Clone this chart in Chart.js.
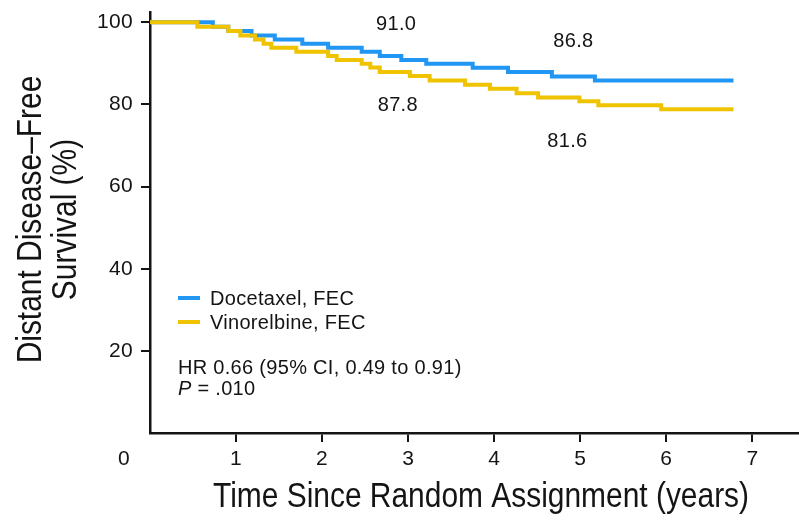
<!DOCTYPE html>
<html>
<head>
<meta charset="utf-8">
<script src="https://cdn.jsdelivr.net/npm/chart.js@4.4.1/dist/chart.umd.min.js"></script>
<style>
  html, body { margin: 0; padding: 0; background: #fff; }
  #wrap { width: 799px; height: 527px; position: relative; }
</style>
</head>
<body>
<div id="wrap"><canvas id="c" width="799" height="527"></canvas></div>
<script>
// ---- Data (Kaplan-Meier step points: value starts at time) ----
const docetaxelTimes    = [0, 0.73, 0.91, 1.18, 1.45, 1.77, 2.07, 2.46, 2.67, 2.92, 3.21, 3.75, 4.16, 4.67, 5.17, 6.78];
const docetaxelSurvival = [100, 98.9, 97.9, 96.8, 95.8, 94.8, 93.8, 92.8, 91.8, 90.8, 89.9, 88.9, 87.9, 86.8, 85.8, 85.8];
const vinorelbineTimes    = [0, 0.55, 0.91, 1.05, 1.22, 1.32, 1.41, 1.70, 2.07, 2.17, 2.46, 2.56, 2.67, 3.02, 3.25, 3.66, 3.95, 4.26, 4.51, 4.99, 5.21, 5.94, 6.78];
const vinorelbineSurvival = [100, 98.9, 97.9, 96.8, 95.8, 94.8, 93.8, 92.8, 91.8, 90.8, 89.9, 89.0, 87.9, 86.9, 85.8, 84.8, 83.8, 82.7, 81.7, 80.8, 79.8, 78.8, 78.8];
const seriesNames = ['Docetaxel, FEC', 'Vinorelbine, FEC'];
const xTickValues = [1, 2, 3, 4, 5, 6, 7];
const yTickValues = [20, 40, 60, 80, 100];
const annotationTexts = ['91.0', '87.8', '86.8', '81.6'];
const statsLines = ['HR 0.66 (95% CI, 0.49 to 0.91)', '= .010'];
const xTitle = 'Time Since Random Assignment (years)';
const yTitleLines = ['Distant Disease\u2013Free', 'Survival (%)'];

const BLUE = '#2196f3';
const YELLOW = '#efc300';
const INK = '#141414';
const FONT = '"Liberation Sans", Arial, Helvetica, sans-serif';
const SPACING = '0.3px';

function toPoints(ts, vs) { return ts.map((t, i) => ({ x: t, y: vs[i] })); }

// anchor of each annotation label, in data units
const annotationPos = [
  { x: 2.86, y: 99.5 }, { x: 2.88, y: 79.8 }, { x: 4.92, y: 95.4 }, { x: 4.85, y: 71.0 }
];

function condensedText(ctx, text, x, y, size, rotate) {
  ctx.save();
  ctx.letterSpacing = '0px';
  ctx.font = size + 'px ' + FONT;
  const wide = ctx.measureText(text).width;
  ctx.font = size + 'px "Liberation Sans Narrow", ' + FONT;
  const actual = ctx.measureText(text).width;
  const sx = (0.855 * wide) / actual;
  ctx.translate(x, y);
  if (rotate) ctx.rotate(-Math.PI / 2);
  ctx.scale(sx, 1);
  ctx.fillStyle = INK;
  ctx.textAlign = 'center';
  ctx.textBaseline = 'middle';
  ctx.fillText(text, 0, 0);
  ctx.restore();
}

const spacing = {
  id: 'spacing',
  beforeDraw(chart) { chart.ctx.letterSpacing = SPACING; }
};

const overlay = {
  id: 'overlay',
  afterDraw(chart) {
    const ctx = chart.ctx;
    const xs = chart.scales.x, ys = chart.scales.y;
    const ca = chart.chartArea;
    ctx.save();
    ctx.letterSpacing = SPACING;
    ctx.fillStyle = INK;
    // origin label
    ctx.font = '21px ' + FONT;
    ctx.textAlign = 'center';
    ctx.textBaseline = 'middle';
    ctx.fillText('0', xs.getPixelForValue(0) - 26, ca.bottom + 26);
    // annotations
    ctx.font = '20px ' + FONT;
    annotationTexts.forEach((t, i) => {
      ctx.fillText(t, xs.getPixelForValue(annotationPos[i].x), ys.getPixelForValue(annotationPos[i].y));
    });
    // legend
    const lx = ca.left + 28;
    const rows = [{ c: BLUE, t: seriesNames[0] }, { c: YELLOW, t: seriesNames[1] }];
    ctx.textAlign = 'left';
    rows.forEach((r, i) => {
      const yy = 298 + i * 24;
      ctx.strokeStyle = r.c;
      ctx.lineWidth = 4;
      ctx.beginPath();
      ctx.moveTo(lx, yy);
      ctx.lineTo(lx + 22, yy);
      ctx.stroke();
      ctx.fillStyle = INK;
      ctx.font = '20px ' + FONT;
      ctx.fillText(r.t, lx + 32, yy + 1);
    });
    // stats
    ctx.font = '20px ' + FONT;
    ctx.fillText(statsLines[0], lx, 368);
    ctx.font = 'italic 20px ' + FONT;
    ctx.fillText('P', lx, 389);
    const pw = ctx.measureText('P ').width;
    ctx.font = '20px ' + FONT;
    ctx.fillText(statsLines[1], lx + pw, 389);
    ctx.restore();
    // axis titles
    const cy = (ca.top + ca.bottom) / 2;
    condensedText(ctx, xTitle, (ca.left + ca.right) / 2 + 7, 497, 35, false);
    condensedText(ctx, yTitleLines[0], 31, cy - 3, 35, true);
    condensedText(ctx, yTitleLines[1], 66, cy - 3, 35, true);
  }
};

new Chart(document.getElementById('c'), {
  type: 'line',
  data: {
    datasets: [
      {
        label: seriesNames[0],
        data: toPoints(docetaxelTimes, docetaxelSurvival),
        borderColor: BLUE, borderWidth: 4, stepped: 'before',
        pointRadius: 0, fill: false, order: 1, borderCapStyle: 'butt', borderJoinStyle: 'miter'
      },
      {
        label: seriesNames[1],
        data: toPoints(vinorelbineTimes, vinorelbineSurvival),
        borderColor: YELLOW, borderWidth: 4, stepped: 'before',
        pointRadius: 0, fill: false, order: 0, borderCapStyle: 'butt', borderJoinStyle: 'miter'
      }
    ]
  },
  options: {
    responsive: false,
    animation: false,
    devicePixelRatio: 1,
    layout: { padding: { top: 12, right: 1, left: 0, bottom: 0 } },
    plugins: { legend: { display: false }, tooltip: { enabled: false } },
    scales: {
      x: {
        type: 'linear', min: 0, max: 7.53,
        afterFit(s) { s.height = 94; s.paddingLeft = 0; s.paddingRight = 0; },
        afterBuildTicks(s) { s.ticks = xTickValues.map(v => ({ value: v })); },
        border: { display: true, color: INK, width: 2.5 },
        grid: { drawOnChartArea: false, drawTicks: true, tickLength: 9, color: INK, lineWidth: 2 },
        ticks: { color: INK, font: { family: FONT, size: 21 }, padding: 5, maxRotation: 0 }
      },
      y: {
        type: 'linear', min: 0, max: 102.5,
        afterFit(s) { s.width = 150; s.paddingTop = 0; s.paddingBottom = 0; },
        afterBuildTicks(s) { s.ticks = yTickValues.map(v => ({ value: v })); },
        border: { display: true, color: INK, width: 2.5 },
        grid: { drawOnChartArea: false, drawTicks: true, tickLength: 9, color: INK, lineWidth: 2 },
        ticks: { color: INK, font: { family: FONT, size: 21 }, padding: 8 }
      }
    }
  },
  plugins: [spacing, overlay]
});
</script>
</body>
</html>
